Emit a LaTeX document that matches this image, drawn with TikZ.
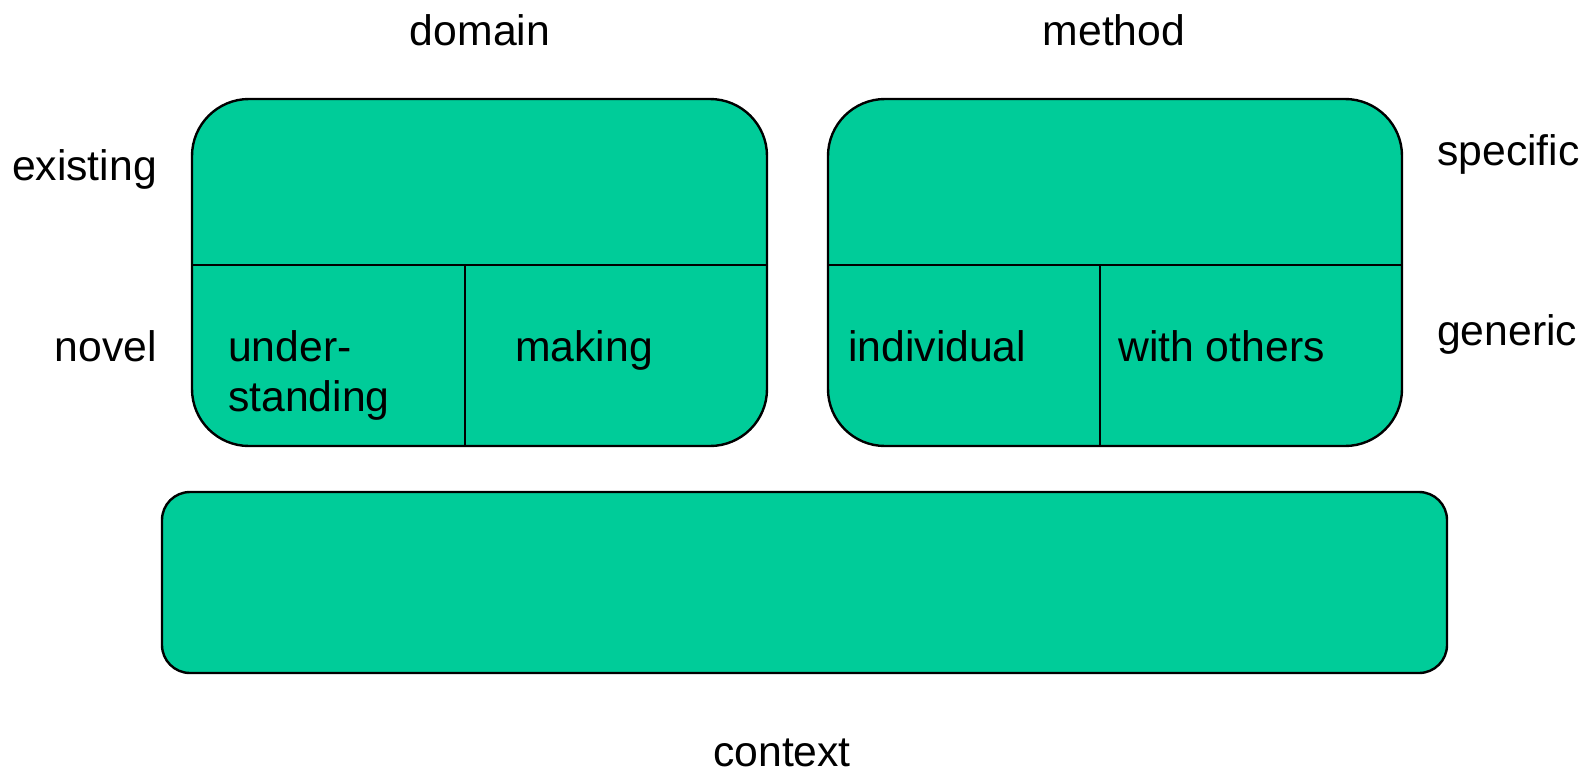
\documentclass[tikz,border=0pt]{standalone}
\usepackage{fontspec}
\setmainfont{Liberation Sans}
\definecolor{boxgreen}{RGB}{0,204,153}
\begin{document}
\begin{tikzpicture}[x=1pt,y=-1pt,
  panel/.style={draw=black, line width=2.4pt, fill=boxgreen, rounded corners=57pt, inner sep=0pt},
  wide/.style={draw=black, line width=2.4pt, fill=boxgreen, rounded corners=28pt, inner sep=0pt},
  divider/.style={draw=black, line width=2.4pt},
  lbl/.style={font=\fontsize{42.7}{50}\selectfont, inner sep=0pt, anchor=base},
  lbll/.style={lbl, anchor=base west},
  lblr/.style={lbl, anchor=base east}]
\useasboundingbox (0,0) rectangle (1587,772);
% panels
\node[panel, minimum width=575pt, minimum height=347pt] (dom) at (479.5,272.5) {};
\node[panel, minimum width=574pt, minimum height=347pt] (met) at (1115,272.5) {};
\node[wide, minimum width=1285pt, minimum height=181pt] (ctx) at (804.5,582.5) {};
% dividers
\coordinate (domL) at (192,265); \coordinate (domR) at (767,265);
\coordinate (domT) at (465,265); \coordinate (domB) at (465,446);
\coordinate (metL) at (828,265); \coordinate (metR) at (1402,265);
\coordinate (metT) at (1100,265); \coordinate (metB) at (1100,446);
\draw[divider] (domL) -- (domR);
\draw[divider] (domT) -- (domB);
\draw[divider] (metL) -- (metR);
\draw[divider] (metT) -- (metB);
% labels
\node[lbl] (tdomain) at (480,45) {domain};
\node[lbl] (tmethod) at (1114,45) {method};
\node[lblr] (texisting) at (157,180) {existing};
\node[lblr] (tnovel) at (157,361) {novel};
\node[lbll] (tspecific) at (1437,165) {specific};
\node[lbll] (tgeneric) at (1437,345) {generic};
\node[lbll] (tunder) at (228,361) {under-};
\node[lbll] (tstanding) at (228,411) {standing};
\node[lbll] (tmaking) at (515,361) {making};
\node[lbll] (tindiv) at (848,361) {individual};
\node[lbll] (tothers) at (1118,361) {with others};
\node[lbl] (tcontext) at (782,766) {context};
\end{tikzpicture}
\end{document}
